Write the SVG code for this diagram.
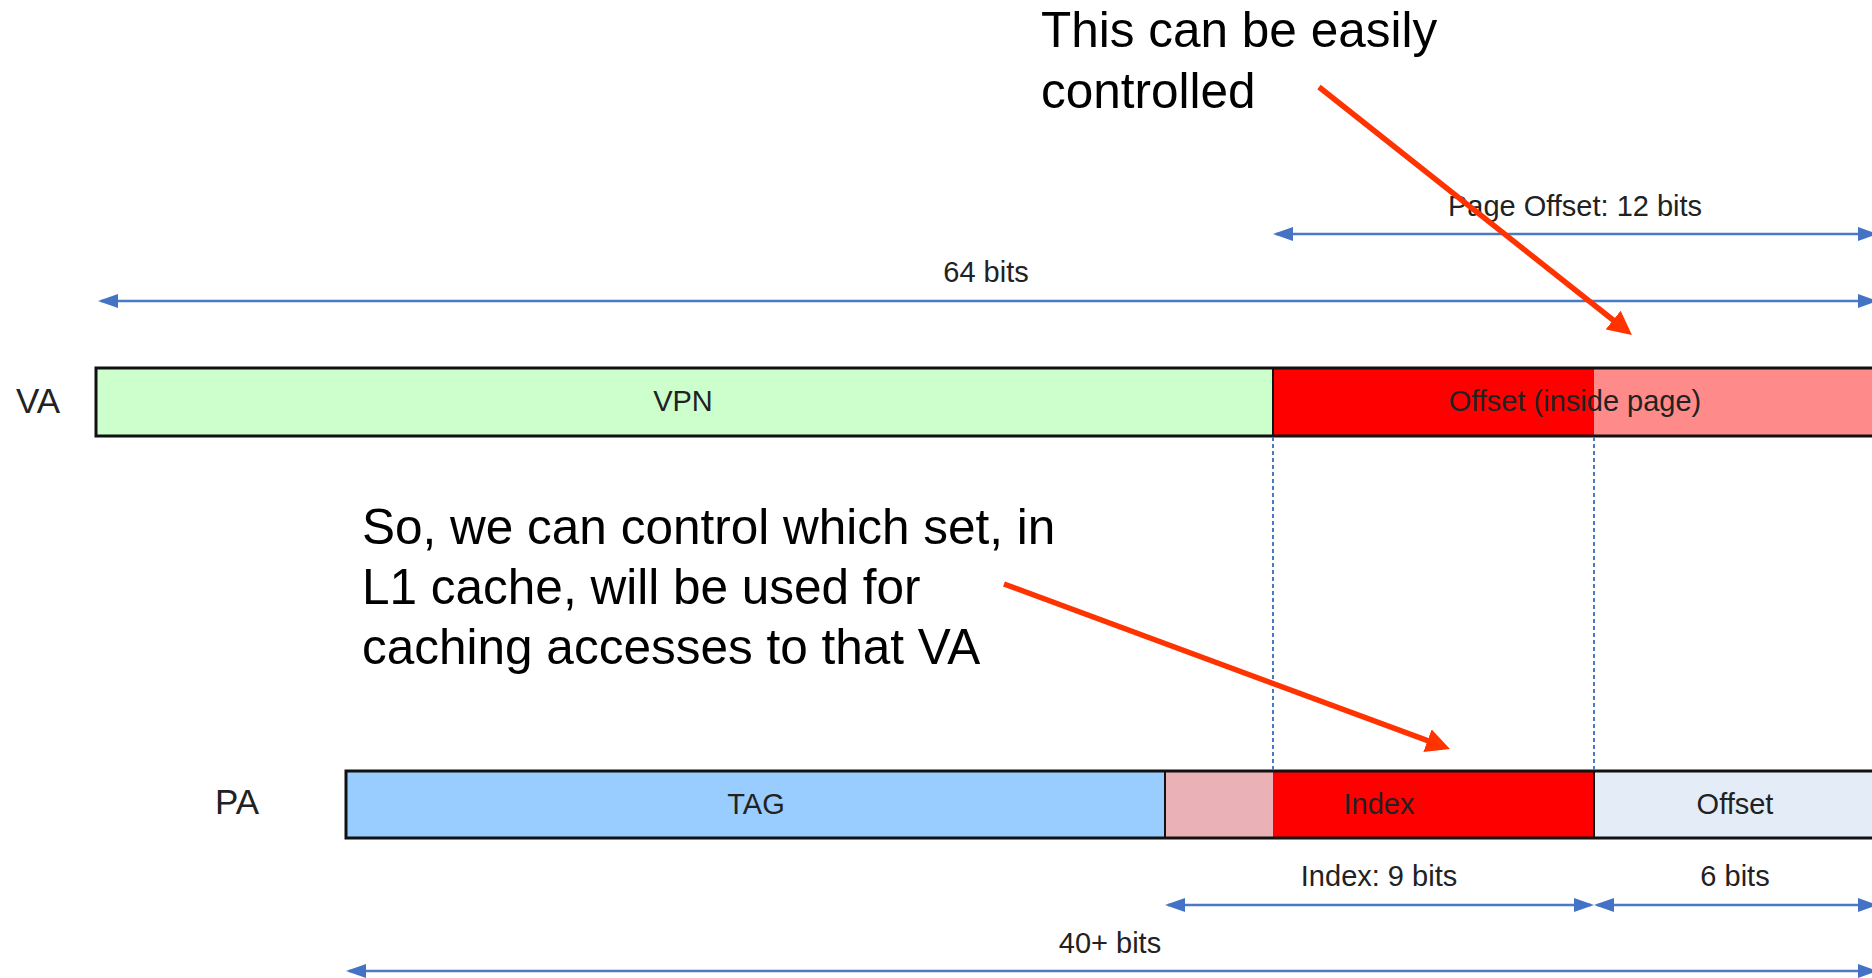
<svg xmlns="http://www.w3.org/2000/svg" width="1872" height="978" viewBox="0 0 1872 978">
<defs>
<style>
.lbl{font-family:"Liberation Sans",Arial,sans-serif;font-size:29px;fill:#222;text-anchor:middle}
.big{font-family:"Liberation Sans",Arial,sans-serif;font-size:49.5px;fill:#000}
.side{font-family:"Liberation Sans",Arial,sans-serif;font-size:35px;fill:#222}
.bar{stroke:none}
.frame{fill:none;stroke:#111;stroke-width:3}
.dim{stroke:#4a7ac6;stroke-width:2.5;fill:none;marker-start:url(#bh);marker-end:url(#bh)}
.guide{stroke:#4a7ac6;stroke-width:2;stroke-dasharray:4 3;fill:none}
.red{stroke:#ff3300;stroke-width:5.5;fill:none;marker-end:url(#rh)}
</style>
<marker id="bh" markerUnits="userSpaceOnUse" markerWidth="20" markerHeight="14" refX="17" refY="7" orient="auto-start-reverse">
<path d="M0,0 L20,7 L0,14 z" fill="#4473c5"/>
</marker>
<marker id="rh" markerUnits="userSpaceOnUse" markerWidth="24" markerHeight="24" refX="16" refY="12" orient="auto">
<path d="M0,0 L24,12 L0,24 z" fill="#ff3300"/>
</marker>
</defs>
<rect width="1872" height="978" fill="#fff"/>

<g id="va">
<text class="side" x="16" y="413">VA</text>
<rect class="bar" x="96" y="368" width="1177" height="68" fill="#ccffcc"/>
<rect class="bar" x="1273" y="368" width="321" height="68" fill="#ff0000"/>
<rect class="bar" x="1594" y="368" width="300" height="68" fill="#ff8a8a"/>
<rect class="frame" x="96" y="368" width="1800" height="68"/>
<line x1="1273" y1="368" x2="1273" y2="436" stroke="#111" stroke-width="2"/>
<text class="lbl" x="683" y="411">VPN</text>
<text class="lbl" x="1575" y="411">Offset (inside page)</text>
</g>

<g id="pa">
<text class="side" x="215" y="814">PA</text>
<rect class="bar" x="346" y="771" width="819" height="67" fill="#99ccff"/>
<rect class="bar" x="1165" y="771" width="108" height="67" fill="#eab2b6"/>
<rect class="bar" x="1273" y="771" width="321" height="67" fill="#ff0000"/>
<rect class="bar" x="1594" y="771" width="300" height="67" fill="#e4ecf7"/>
<rect class="frame" x="346" y="771" width="1550" height="67" stroke-width="2.5"/>
<line x1="1165" y1="771" x2="1165" y2="838" stroke="#111" stroke-width="2"/>
<line x1="1594" y1="771" x2="1594" y2="838" stroke="#111" stroke-width="2"/>
<text class="lbl" x="756" y="814">TAG</text>
<text class="lbl" x="1379" y="814">Index</text>
<text class="lbl" x="1735" y="814">Offset</text>
</g>

<g id="notes">
<text class="big" x="1041" y="47">This can be easily</text>
<text class="big" x="1041" y="108">controlled</text>
<text class="big" x="362" y="544">So, we can control which set, in</text>
<text class="big" x="362" y="604">L1 cache, will be used for</text>
<text class="big" x="362" y="664">caching accesses to that VA</text>
</g>

<g id="dimension-labels">
<text class="lbl" x="1575" y="216">Page Offset: 12 bits</text>
<text class="lbl" x="986" y="282">64 bits</text>
<text class="lbl" x="1379" y="886">Index: 9 bits</text>
<text class="lbl" x="1735" y="886">6 bits</text>
<text class="lbl" x="1110" y="953">40+ bits</text>
</g>

<g id="connectors">
<line class="guide" x1="1273" y1="437" x2="1273" y2="770"/>
<line class="guide" x1="1594" y1="437" x2="1594" y2="770"/>
<line class="dim" x1="101" y1="301" x2="1875" y2="301"/>
<line class="dim" x1="1276" y1="234" x2="1875" y2="234"/>
<line class="dim" x1="1168" y1="905" x2="1591" y2="905"/>
<line class="dim" x1="1597" y1="905" x2="1875" y2="905"/>
<line class="dim" x1="349" y1="971" x2="1875" y2="971"/>
<line class="red" x1="1319" y1="87" x2="1625.7" y2="330"/>
<line class="red" x1="1004" y1="584" x2="1442.5" y2="746.2"/>
</g>
</svg>
